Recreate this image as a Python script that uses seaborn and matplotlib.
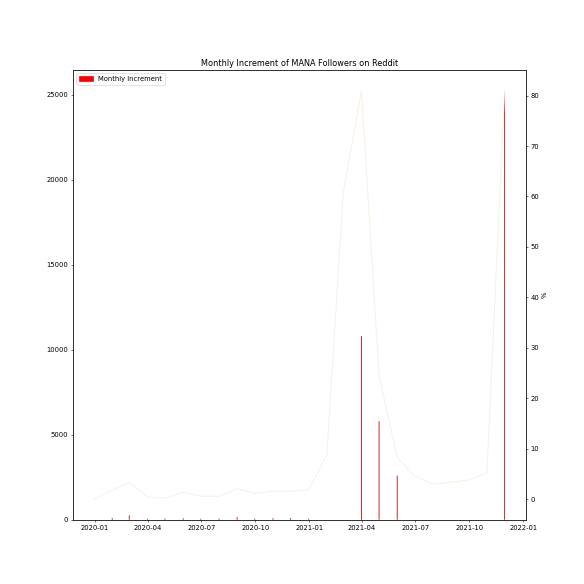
import pandas as pd
import matplotlib
matplotlib.use("Agg")
import matplotlib.pyplot as plt
import seaborn as sns

# month-end dates
months = pd.date_range("2019-12-31", "2021-11-30", freq="ME")

# monthly increment of followers (left axis)
increment = [0, 100, 260, 60, 80, 90, 60, 70, 160, 70, 90, 100,
             60, 0, 0, 10800, 5800, 2600, 0, 0, 0, 0, 0, 25200]

# monthly growth in % (right axis)
pct = [0.0, 1.8, 3.4, 0.5, 0.2, 1.4, 0.6, 0.6, 2.1, 1.2, 1.6, 1.6,
       1.9, 8.8, 60.8, 81.0, 24.4, 8.3, 4.6, 3.0, 3.4, 3.8, 5.3, 81.0]

df = pd.DataFrame({"month": months, "increment": increment, "pct": pct})

fig, ax1 = plt.subplots(figsize=(12, 12), dpi=48.67)

# bars for monthly increment, about one pixel wide
bars = ax1.bar(df["month"], df["increment"], width=1.7, color="#c8302c",
               linewidth=0)
for b in bars:
    b.set_snap(False)
ax1.legend(handles=[plt.Rectangle((0, 0), 1, 1, color="red")],
           labels=["Monthly Increment"], loc="upper left")

# percentage line on the secondary axis
ax2 = ax1.twinx()
sns.lineplot(data=df, x="month", y="pct", color="linen", ax=ax2, legend=False)
ax2.set_ylabel("%")
ax2.set_xlabel("")

ax1.set_title("Monthly Increment of MANA Followers on Reddit")

plt.savefig("out.png", dpi=48.67)
